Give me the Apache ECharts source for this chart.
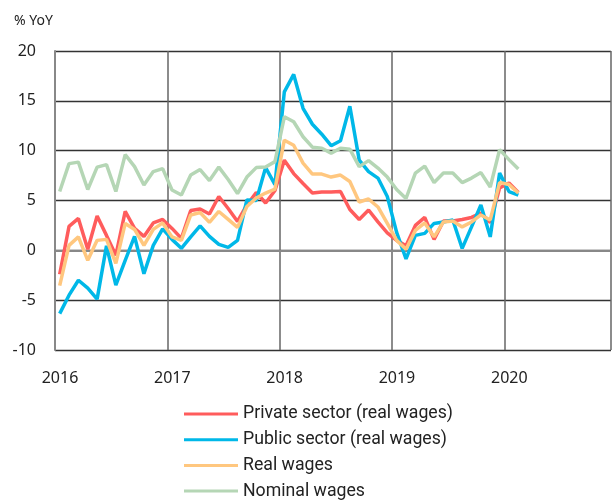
<html>
<head>
<meta http-equiv="Content-Type" content="text/html; charset=utf-8" />
<script src="https://cdn.jsdelivr.net/npm/echarts@6/dist/echarts.min.js"></script>
</head>
<body style="margin:0">
<div id="wages" style="height:500px;width:614px;"></div>
<script type="text/javascript">
// monthly data, Jan 2016 - Feb 2020
var startYear = 2016;
var yearLabels = ['2016', '2017', '2018', '2019', '2020'];
var seriesNames = ['Private sector (real wages)', 'Public sector (real wages)', 'Real wages', 'Nominal wages'];

var privateReal = [
    -2.4, 2.4, 3.2, 0.1, 3.45, 1.5, -0.5, 3.9, 2.2, 1.4, 2.75, 3.1,
    2.2, 1.2, 4.0, 4.15, 3.65, 5.4, 4.2, 2.9, 4.55, 5.8, 4.75, 6.0,
    9.05, 7.7, 6.7, 5.75, 5.85, 5.85, 5.9, 4.1, 3.1, 4.05, 2.85, 1.75,
    1.0, 0.45, 2.5, 3.3, 1.1, 2.95, 2.95, 3.1, 3.3, 3.75, 2.8, 6.25,
    6.75, 5.8
];
var publicReal = [
    -6.35, -4.5, -3.0, -3.8, -4.9, 0.45, -3.5, -1.0, 1.4, -2.35, 0.5, 2.15,
    1.1, 0.2, 1.35, 2.45, 1.4, 0.6, 0.3, 1.0, 5.05, 5.0, 8.3, 6.6,
    15.9, 17.65, 14.25, 12.65, 11.65, 10.5, 11.0, 14.45, 9.05, 7.9, 7.25, 5.4,
    1.8, -0.85, 1.5, 1.7, 2.7, 2.85, 3.05, 0.2, 2.35, 4.55, 1.35, 7.75,
    5.9, 5.55
];
var realWages = [
    -3.55, 0.5, 1.35, -1.0, 1.0, 1.1, -1.3, 2.7, 2.1, 0.5, 2.1, 2.75,
    1.35, 1.0, 3.55, 3.8, 2.8, 3.9, 3.1, 2.3, 4.4, 5.25, 5.75, 6.15,
    11.05, 10.55, 8.75, 7.65, 7.65, 7.35, 7.55, 6.9, 4.85, 5.15, 4.35, 2.7,
    1.0, 0.1, 2.0, 2.75, 1.35, 2.85, 2.95, 2.35, 2.85, 3.55, 3.05, 6.8,
    6.6, 5.75
];
var nominalWages = [
    5.9, 8.7, 8.85, 6.1, 8.35, 8.6, 5.9, 9.6, 8.4, 6.55, 7.9, 8.2,
    6.05, 5.55, 7.55, 8.1, 7.0, 8.35, 7.1, 5.7, 7.35, 8.3, 8.35, 8.9,
    13.4, 12.9, 11.4, 10.35, 10.25, 9.75, 10.25, 10.15, 8.4, 9.0, 8.25, 7.35,
    6.1, 5.2, 7.75, 8.45, 6.8, 7.75, 7.75, 6.8, 7.25, 7.8, 6.35, 10.1,
    9.1, 8.15
];

var colors = ['#ff5c5c', '#00b8e8', '#ffc77f', '#b5d6b5'];

// points sit mid-month
function toPoints(arr) {
    return arr.map(function (v, i) {
        return [startYear + (i + 0.5) / 12, v];
    });
}

var myChart = echarts.init(document.getElementById('wages'));
var font = 'Noto Sans';

var allData = [privateReal, publicReal, realWages, nominalWages];
var series = [];
for (var k = 0; k < allData.length; k++) {
    series.push({
        name: seriesNames[k],
        type: 'line',
        symbol: 'none',
        data: toPoints(allData[k]),
        z: k == 2 ? 5 : 3,
        lineStyle: { width: 3.5, color: colors[k] },
        itemStyle: { color: colors[k] }
    });
}

myChart.setOption({
    animation: false,
    textStyle: { fontFamily: font },
    title: {
        text: '% YoY',
        left: 9,
        top: 9,
        textStyle: { fontSize: 14, fontWeight: 'normal', color: '#222', fontFamily: font }
    },
    grid: { left: 55, top: 51, right: 0, bottom: 150 },
    legend: {
        orient: 'vertical',
        left: 184,
        top: 405,
        height: 120,
        padding: 0,
        itemWidth: 54,
        itemHeight: 18,
        itemGap: 7.7,
        icon: 'path://M0,0 L54,0 L54,3 L0,3 Z',
        textStyle: { fontSize: 17.7, lineHeight: 18, color: '#222', fontFamily: 'Roboto' },
        data: seriesNames
    },
    xAxis: {
        type: 'value',
        min: 2016,
        max: 2020.95,
        interval: 1,
        axisLine: { lineStyle: { color: '#888', width: 2 } },
        axisTick: { show: false },
        splitLine: { lineStyle: { color: '#666', width: 1.5 } },
        axisLabel: {
            margin: 20,
            fontSize: 16,
            color: '#222',
            padding: [0, 0, 0, 10],
            formatter: function (v) {
                var idx = v - startYear;
                return Number.isInteger(idx) && yearLabels[idx] ? yearLabels[idx] : '';
            }
        }
    },
    yAxis: {
        type: 'value',
        min: -10,
        max: 20,
        interval: 5,
        axisLine: { show: true, lineStyle: { color: '#888', width: 2 } },
        axisTick: { show: false },
        splitLine: { lineStyle: { color: '#333', width: 1.3 } },
        axisLabel: { margin: 19, fontSize: 16, color: '#222' }
    },
    series: series
});
</script>
</body>
</html>
